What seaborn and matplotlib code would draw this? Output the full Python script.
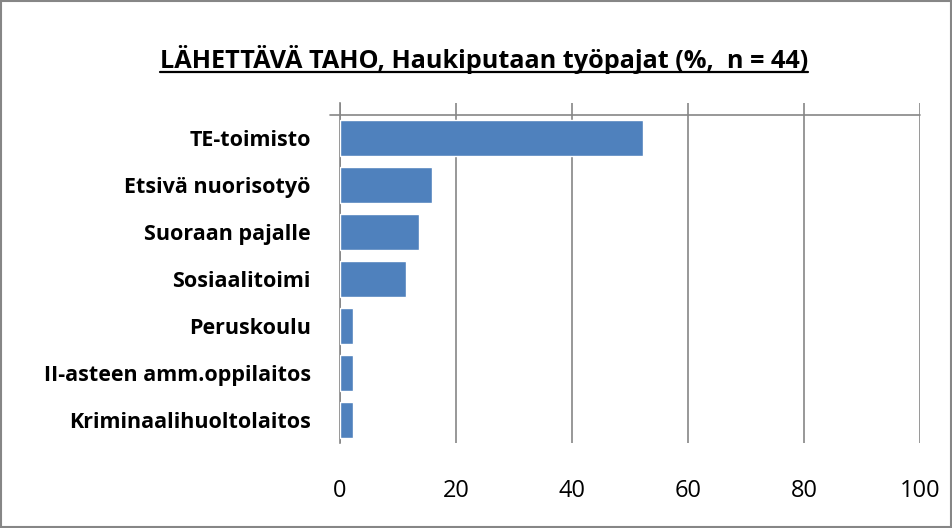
import matplotlib
matplotlib.use('Agg')
import matplotlib.pyplot as plt
import seaborn as sns
import pandas as pd
from matplotlib.lines import Line2D
from matplotlib.patches import Rectangle

# data (% of n = 44)
categories = ['TE-toimisto', 'Etsivä nuorisotyö', 'Suoraan pajalle', 'Sosiaalitoimi',
              'Peruskoulu', 'II-asteen amm.oppilaitos', 'Kriminaalihuoltolaitos']
shares = [52.3, 15.9, 13.6, 11.4, 2.3, 2.3, 2.3]
x_ticks = [0, 20, 40, 60, 80, 100]
title = 'LÄHETTÄVÄ TAHO, Haukiputaan työpajat (%,  n = 44)'

sns.set_style('white')
plt.rcParams['font.family'] = ['Open Sans', 'DejaVu Sans']
plt.rcParams['text.color'] = 'black'

grey = '#868686'
df = pd.DataFrame({'taho': categories, 'osuus': shares})

fig = plt.figure(figsize=(9.53, 5.28), dpi=100)
ax = fig.add_axes([340 / 953, 1 - 443 / 528, 580 / 953, 340 / 528])

sns.barplot(data=df, x='osuus', y='taho', color='#4F81BD', saturation=1,
            width=0.77, ax=ax, zorder=3)

n = len(categories)
top_extra = 12 / (328 / n)
ax.set_ylim(n - 0.5, -0.5 - top_extra)
ax.set_xlim(0, 100)
ax.set_xticks(x_ticks)
ax.xaxis.grid(True, color=grey, linewidth=1.2, zorder=0)
ax.yaxis.grid(False)

# value axis line at the top of the category range
ax.axhline(-0.5, color=grey, linewidth=1.2, zorder=1, xmin=-10 / 580, clip_on=False)

for side in ['top', 'right', 'bottom']:
    ax.spines[side].set_visible(False)
ax.spines['left'].set_color(grey)
ax.spines['left'].set_linewidth(1.2)
ax.spines['left'].set_bounds(n - 0.5, -0.5 - top_extra)

ax.set_yticks([i - 0.5 for i in range(n + 1)], minor=True)
ax.tick_params(axis='y', which='minor', length=7.2, width=1.2, color=grey, direction='out')
ax.tick_params(axis='y', which='major', length=0, pad=21, labelcolor='black')
ax.tick_params(axis='x', length=0, pad=26, labelsize=17, labelcolor='black')
for lab in ax.get_yticklabels():
    lab.set_fontweight('bold')
    lab.set_fontsize(15.5)

ax.set_xlabel('')
ax.set_ylabel('')

# title, bold and underlined
t = fig.text(484 / 953, 1 - 60 / 528, title, ha='center', va='center',
             fontsize=18.2, fontweight='bold', color='black')
fig.canvas.draw()
bb = t.get_window_extent().transformed(fig.transFigure.inverted())
fig.add_artist(Line2D([bb.x0, bb.x1], [bb.y0 + 0.004, bb.y0 + 0.004],
                      transform=fig.transFigure, color='black', linewidth=1.6))

# chart border
fig.add_artist(Rectangle((0.001, 0.002), 0.997, 0.996, transform=fig.transFigure,
                         fill=False, edgecolor=grey, linewidth=1.5))

fig.savefig('out.png', dpi=100)
